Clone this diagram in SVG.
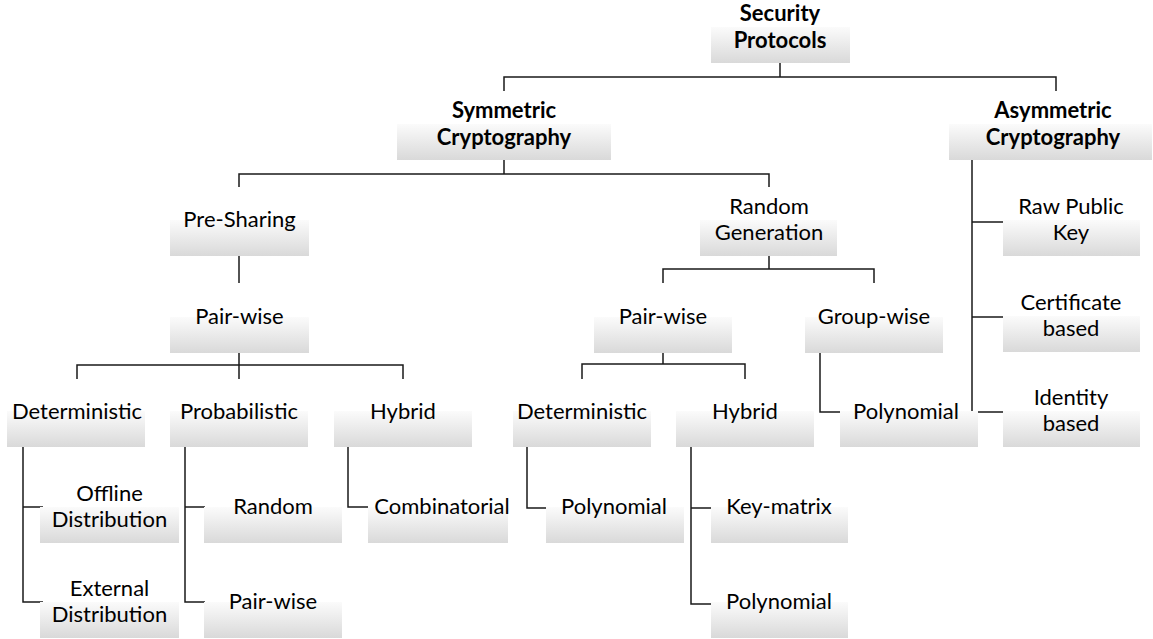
<svg xmlns="http://www.w3.org/2000/svg" width="1153" height="639" viewBox="0 0 1153 639">
<defs>
<linearGradient id="g" x1="0" y1="0" x2="0" y2="1">
<stop offset="0" stop-color="#fbfbfb"/>
<stop offset="1" stop-color="#d9d9d9"/>
</linearGradient>
<style>
.box{fill:url(#g)}
.t{font-family:Lato,"Open Sans","Liberation Sans",sans-serif;font-size:22px;fill:#000;text-anchor:middle}
.b{font-weight:bold}
.c{fill:none;stroke:#1a1a1a;stroke-width:1.5}
</style>
</defs>
<rect width="1153" height="639" fill="#fff"/>
<g id="connectors" class="c">
<path d="M780,63V77M504,91V77H1056V91"/>
<path d="M504,160V174M239,187V174H769V187"/>
<path d="M239,256V283"/>
<path d="M239,353V379M77,379V365H403V379"/>
<path d="M23,447V602H43M23,507H43"/>
<path d="M185,447V602H205M185,507H205"/>
<path d="M348,447V507H368"/>
<path d="M769,256V269M663,283V269H874V283"/>
<path d="M663,353V364M582,379V364H745V379"/>
<path d="M820,353V412H840"/>
<path d="M527,447V508H548"/>
<path d="M691,447V604H711M691,508H711"/>
<path d="M972,160V412H1003M972,222H1003M972,317H1003"/>
</g>
<g id="n-security"><rect class="box" x="711" y="27" width="139" height="36"/><text class="t b" x="780" y="21">Security</text><text class="t b" x="780" y="48">Protocols</text></g>
<g id="n-symmetric"><rect class="box" x="397" y="124" width="214" height="36"/><text class="t b" x="504" y="118">Symmetric</text><text class="t b" x="504" y="145">Cryptography</text></g>
<g id="n-asymmetric"><rect class="box" x="949" y="124" width="203" height="36"/><text class="t b" x="1053" y="118">Asymmetric</text><text class="t b" x="1053" y="145">Cryptography</text></g>
<g id="n-presharing"><rect class="box" x="170" y="220" width="139" height="36"/><text class="t" x="239.5" y="227">Pre-Sharing</text></g>
<g id="n-pairwise1"><rect class="box" x="170" y="317" width="139" height="36"/><text class="t" x="239.5" y="324">Pair-wise</text></g>
<g id="n-det1"><rect class="box" x="7" y="411" width="138" height="36"/><text class="t" x="77" y="419">Deterministic</text></g>
<g id="n-prob"><rect class="box" x="170" y="411" width="138" height="36"/><text class="t" x="239" y="419">Probabilistic</text></g>
<g id="n-hyb1"><rect class="box" x="334" y="411" width="138" height="36"/><text class="t" x="403" y="419">Hybrid</text></g>
<g id="n-offline"><rect class="box" x="40" y="507" width="139" height="36"/><text class="t" x="109.5" y="501">Offline</text><text class="t" x="109.5" y="527">Distribution</text></g>
<g id="n-external"><rect class="box" x="40" y="602" width="139" height="36"/><text class="t" x="109.5" y="596">External</text><text class="t" x="109.5" y="622">Distribution</text></g>
<g id="n-random"><rect class="box" x="204" y="507" width="138" height="36"/><text class="t" x="273" y="514">Random</text></g>
<g id="n-pairwise2"><rect class="box" x="204" y="602" width="138" height="36"/><text class="t" x="273" y="609">Pair-wise</text></g>
<g id="n-comb"><rect class="box" x="368" y="507" width="140" height="36"/><text class="t" x="442" y="514">Combinatorial</text></g>
<g id="n-randomgen"><rect class="box" x="700" y="220" width="137" height="36"/><text class="t" x="769" y="214">Random</text><text class="t" x="769" y="240">Generation</text></g>
<g id="n-pairwise3"><rect class="box" x="594" y="317" width="138" height="36"/><text class="t" x="663" y="324">Pair-wise</text></g>
<g id="n-groupwise"><rect class="box" x="805" y="317" width="138" height="36"/><text class="t" x="874" y="324">Group-wise</text></g>
<g id="n-det2"><rect class="box" x="513" y="411" width="138" height="36"/><text class="t" x="582" y="419">Deterministic</text></g>
<g id="n-hyb2"><rect class="box" x="676" y="411" width="138" height="36"/><text class="t" x="745" y="419">Hybrid</text></g>
<g id="n-poly1"><rect class="box" x="840" y="411" width="138" height="36"/><text class="t" x="906" y="419">Polynomial</text></g>
<g id="n-poly2"><rect class="box" x="546" y="507" width="138" height="36"/><text class="t" x="614" y="514">Polynomial</text></g>
<g id="n-keymatrix"><rect class="box" x="711" y="507" width="137" height="36"/><text class="t" x="779" y="514">Key-matrix</text></g>
<g id="n-poly3"><rect class="box" x="711" y="602" width="137" height="36"/><text class="t" x="779" y="609">Polynomial</text></g>
<g id="n-rawpk"><rect class="box" x="1003" y="220" width="137" height="36"/><text class="t" x="1071" y="214">Raw Public</text><text class="t" x="1071" y="240">Key</text></g>
<g id="n-cert"><rect class="box" x="1003" y="316" width="137" height="36"/><text class="t" x="1071" y="310">Certificate</text><text class="t" x="1071" y="336">based</text></g>
<g id="n-identity"><rect class="box" x="1003" y="411" width="137" height="36"/><text class="t" x="1071" y="405">Identity</text><text class="t" x="1071" y="431">based</text></g>
</svg>
